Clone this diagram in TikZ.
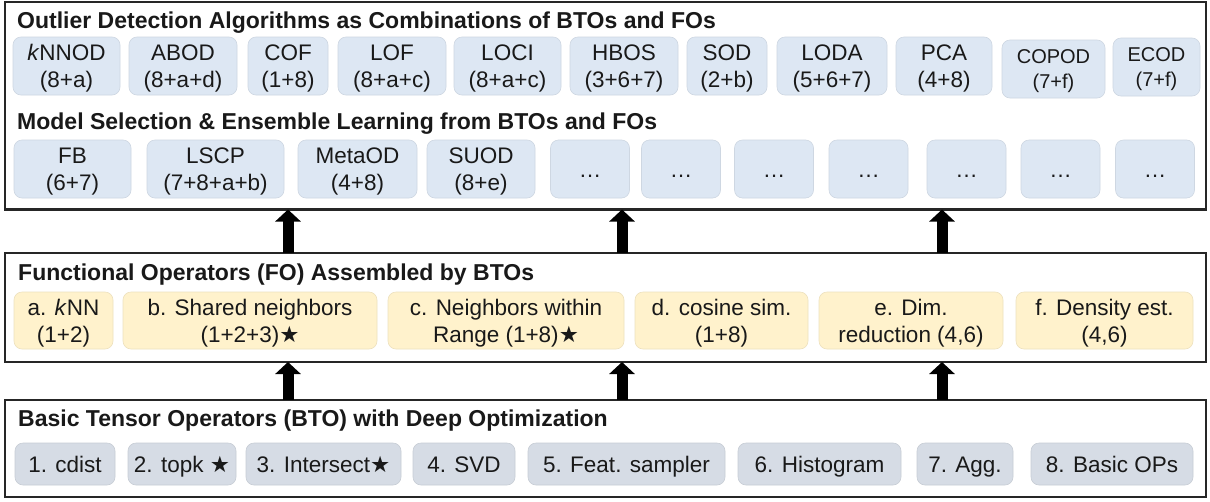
\documentclass[tikz,border=0pt]{standalone}
\usepackage{fontspec}
\setmainfont{Liberation Sans}
\newfontfamily\starfont{DejaVu Sans}
\usetikzlibrary{arrows.meta}

\definecolor{od-blue}{RGB}{221,231,243}
\definecolor{fo-yellow}{RGB}{255,242,204}
\definecolor{bto-grey}{RGB}{214,220,229}
\colorlet{frame-black}{black!85}
\colorlet{text-black}{black!90}

\newcommand{\bstar}{{\starfont ★}}

\tikzset{
  layer/.style={draw=frame-black, line width=2.5pt, inner sep=0pt, outer sep=0pt},
  layertitle/.style={anchor=base west, inner sep=0pt, text=text-black,
    font=\fontsize{23}{26}\selectfont\bfseries},
  opbox/.style={rounded corners=8pt, inner sep=0pt, align=center, text=text-black,
    line width=0.6pt, text depth=0pt, font=\fontsize{22.5}{27}\selectfont},
  algbox/.style={opbox, fill=od-blue, draw=od-blue!93!black, minimum height=58pt},
  fobox/.style={opbox, fill=fo-yellow, draw=fo-yellow!93!black, minimum height=57pt},
  btobox/.style={opbox, fill=bto-grey, draw=bto-grey!93!black, minimum height=42pt,
    text height=16pt},
  uparrow/.style={line width=11pt, draw=black, -{Triangle[width=25pt,length=12pt]}},
}

\begin{document}
\begin{tikzpicture}[x=1pt, y=-1pt]
  \useasboundingbox[fill=white] (0,0) rectangle (1210,501);

  % three layers
  \node[layer, minimum width=1201pt, minimum height=207.5pt] (od) at (605.5,105.75) {};
  \node[layer, minimum width=1201pt, minimum height=109pt] (fo) at (605.5,307.5) {};
  \node[layer, minimum width=1201pt, minimum height=97pt] (bto) at (605.5,448.5) {};

  \node[layertitle] (odtitle) at (17,28) {Outlier Detection Algorithms as Combinations of BTOs and FOs};
  \node[layertitle] (enstitle) at (17,129) {Model Selection \& Ensemble Learning from BTOs and FOs};
  \node[layertitle] (fotitle) at (18,280) {Functional Operators (FO) Assembled by BTOs};
  \node[layertitle] (btotitle) at (18,426) {Basic Tensor Operators (BTO) with Deep Optimization};

  % detection algorithms
  \node[algbox, minimum width=107pt] (knnod) at (66.5,66) {\textit{k}NNOD\\(8+a)};
  \node[algbox, minimum width=108pt] (abod) at (183,66) {ABOD\\(8+a+d)};
  \node[algbox, minimum width=80pt] (cof) at (288,66) {COF\\(1+8)};
  \node[algbox, minimum width=108pt] (lof) at (392,66) {LOF\\(8+a+c)};
  \node[algbox, minimum width=107pt] (loci) at (507.5,66) {LOCI\\(8+a+c)};
  \node[algbox, minimum width=108pt] (hbos) at (624,66) {HBOS\\(3+6+7)};
  \node[algbox, minimum width=80pt] (sod) at (727,66) {SOD\\(2+b)};
  \node[algbox, minimum width=110pt] (loda) at (832,66) {LODA\\(5+6+7)};
  \node[algbox, minimum width=96pt] (pca) at (944,66) {PCA\\(4+8)};
  \node[algbox, minimum width=103pt, font=\fontsize{20}{25}\selectfont] (copod) at (1053.5,69) {COPOD\\(7+f)};
  \node[algbox, minimum width=87pt, font=\fontsize{20}{25}\selectfont] (ecod) at (1156.5,67) {ECOD\\(7+f)};

  % model selection and ensembles
  \node[algbox, minimum width=117pt] (fbens) at (72.5,169) {FB\\(6+7)};
  \node[algbox, minimum width=137pt] (lscp) at (215.5,169) {LSCP\\(7+8+a+b)};
  \node[algbox, minimum width=119pt] (metaod) at (357.5,169) {MetaOD\\(4+8)};
  \node[algbox, minimum width=108pt] (suod) at (481,169) {SUOD\\(8+e)};
  \foreach \x [count=\i] in {590,681,774,868.5,966.5,1060.5,1155}
    \node[algbox, minimum width=79pt] (more\i) at (\x,169) {\vphantom{(}\dots};

  % functional operators
  \node[fobox, minimum width=99pt] (knn) at (63.5,320.5) {a. \textit{k}NN\\(1+2)};
  \node[fobox, minimum width=254pt] (shared) at (250,320.5) {b. Shared neighbors\\(1+2+3)\bstar};
  \node[fobox, minimum width=236pt] (range) at (506,320.5) {c. Neighbors within\\Range (1+8)\bstar};
  \node[fobox, minimum width=173pt] (cosine) at (721.5,320.5) {d. cosine sim.\\(1+8)};
  \node[fobox, minimum width=184pt] (dimred) at (911,320.5) {e. Dim.\\reduction (4,6)};
  \node[fobox, minimum width=177pt] (density) at (1104.5,320.5) {f. Density est.\\(4,6)};

  % basic tensor operators
  \node[btobox, minimum width=100pt] (cdist) at (65,464) {1. cdist};
  \node[btobox, minimum width=108pt] (topk) at (182,464) {2. topk \bstar};
  \node[btobox, minimum width=155pt] (intersect) at (323.5,464) {3. Intersect\bstar};
  \node[btobox, minimum width=102pt] (svd) at (464,464) {4. SVD};
  \node[btobox, minimum width=197pt] (sampler) at (626.5,464) {5. Feat. sampler};
  \node[btobox, minimum width=163pt] (histogram) at (819.5,464) {6. Histogram};
  \node[btobox, minimum width=96pt] (agg) at (965,464) {7. Agg.};
  \node[btobox, minimum width=162pt] (basicops) at (1112,464) {8. Basic OPs};

  % arrows between layers
  \foreach \ax [count=\i] in {288,622,942} {
    \coordinate (col\i) at (\ax,0);
    \draw[uparrow] (fo.north -| col\i) -- (od.south -| col\i);
    \draw[uparrow] (bto.north -| col\i) -- (fo.south -| col\i);
  }
\end{tikzpicture}
\end{document}
